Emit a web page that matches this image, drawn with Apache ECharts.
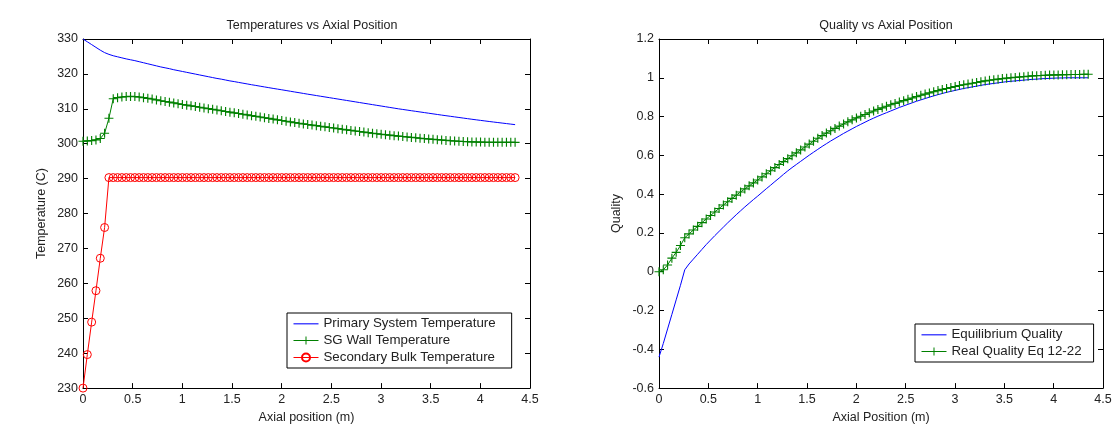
<!DOCTYPE html>
<html><head><meta charset="utf-8">
<script src="https://cdn.jsdelivr.net/npm/echarts@6/dist/echarts.min.js"></script>
<style>html,body{margin:0;padding:0;background:#fff}#c{width:1117px;height:429px}</style>
</head><body><div id="c"></div>
<script>
// Axial positions (m) of the computed nodes
const axialPos = [0, 0.0435, 0.087, 0.1305, 0.174, 0.2175, 0.261, 0.3045, 0.348, 0.3915, 0.435, 0.4785, 0.522, 0.5655, 0.609, 0.6525, 0.696, 0.7395, 0.783, 0.8265, 0.87, 0.9135, 0.957, 1.0005, 1.044, 1.0875, 1.131, 1.1745, 1.218, 1.2615, 1.305, 1.3485, 1.392, 1.4355, 1.479, 1.5225, 1.566, 1.6095, 1.653, 1.6965, 1.74, 1.7835, 1.827, 1.8705, 1.914, 1.9575, 2.001, 2.0445, 2.088, 2.1315, 2.175, 2.2185, 2.262, 2.3055, 2.349, 2.3925, 2.436, 2.4795, 2.523, 2.5665, 2.61, 2.6535, 2.697, 2.7405, 2.784, 2.8275, 2.871, 2.9145, 2.958, 3.0015, 3.045, 3.0885, 3.132, 3.1755, 3.219, 3.2625, 3.306, 3.3495, 3.393, 3.4365, 3.48, 3.5235, 3.567, 3.6105, 3.654, 3.6975, 3.741, 3.7845, 3.828, 3.8715, 3.915, 3.9585, 4.002, 4.0455, 4.089, 4.1325, 4.176, 4.2195, 4.263, 4.3065, 4.35];

const primaryTemp = [330.0, 329.2, 328.4, 327.6, 326.8, 326.1, 325.6, 325.2, 324.9, 324.6, 324.3, 324.05,
  323.8, 323.5, 323.2, 322.9, 322.6, 322.3, 322.0, 321.75, 321.5, 321.2, 320.95, 320.7,
  320.45, 320.2, 319.95, 319.7, 319.45, 319.2, 318.95, 318.7, 318.5, 318.25, 318.0, 317.8,
  317.57, 317.35, 317.13, 316.9, 316.7, 316.48, 316.27, 316.06, 315.85, 315.65, 315.45, 315.24,
  315.03, 314.82, 314.62, 314.41, 314.2, 314.0, 313.8, 313.6, 313.4, 313.2, 313.0, 312.8,
  312.6, 312.4, 312.2, 312.0, 311.8, 311.6, 311.4, 311.2, 311.0, 310.8, 310.6, 310.4,
  310.2, 310.0, 309.82, 309.64, 309.46, 309.28, 309.1, 308.92, 308.74, 308.56, 308.38, 308.2,
  308.03, 307.86, 307.69, 307.52, 307.35, 307.18, 307.01, 306.85, 306.69, 306.53, 306.37, 306.22,
  306.07, 305.92, 305.77, 305.62, 305.47];

const wallTemp = [300.7, 300.8, 300.9, 301.1, 301.5, 303.0, 307.3, 312.9, 313.2, 313.4, 313.5, 313.55,
  313.5, 313.4, 313.2, 313.0, 312.8, 312.55, 312.3, 312.1, 311.9, 311.7, 311.45, 311.25,
  311.05, 310.85, 310.65, 310.45, 310.25, 310.05, 309.85, 309.65, 309.45, 309.25, 309.05, 308.85,
  308.65, 308.45, 308.25, 308.05, 307.85, 307.65, 307.45, 307.25, 307.05, 306.85, 306.65, 306.45,
  306.25, 306.05, 305.85, 305.68, 305.51, 305.34, 305.17, 305.0, 304.83, 304.66, 304.49, 304.32,
  304.15, 303.98, 303.81, 303.65, 303.49, 303.33, 303.17, 303.01, 302.86, 302.71, 302.58, 302.45,
  302.32, 302.19, 302.06, 301.94, 301.82, 301.7, 301.58, 301.47, 301.36, 301.26, 301.16, 301.06,
  300.96, 300.87, 300.79, 300.71, 300.64, 300.58, 300.53, 300.49, 300.46, 300.44, 300.42, 300.41,
  300.4, 300.4, 300.4, 300.4, 300.4];

const bulkTemp = [230.0, 239.6, 248.9, 257.9, 267.2, 276.0,
  290.3, 290.3, 290.3, 290.3, 290.3, 290.3, 290.3, 290.3, 290.3, 290.3,
  290.3, 290.3, 290.3, 290.3, 290.3, 290.3, 290.3, 290.3, 290.3, 290.3,
  290.3, 290.3, 290.3, 290.3, 290.3, 290.3, 290.3, 290.3, 290.3, 290.3,
  290.3, 290.3, 290.3, 290.3, 290.3, 290.3, 290.3, 290.3, 290.3, 290.3,
  290.3, 290.3, 290.3, 290.3, 290.3, 290.3, 290.3, 290.3, 290.3, 290.3,
  290.3, 290.3, 290.3, 290.3, 290.3, 290.3, 290.3, 290.3, 290.3, 290.3,
  290.3, 290.3, 290.3, 290.3, 290.3, 290.3, 290.3, 290.3, 290.3, 290.3,
  290.3, 290.3, 290.3, 290.3, 290.3, 290.3, 290.3, 290.3, 290.3, 290.3,
  290.3, 290.3, 290.3, 290.3, 290.3, 290.3, 290.3, 290.3, 290.3, 290.3,
  290.3, 290.3, 290.3, 290.3, 290.3];

const eqQuality = [-0.44, -0.37, -0.295, -0.22, -0.145, -0.07, 0.01, 0.04, 0.065, 0.09, 0.115, 0.14,
  0.163, 0.186, 0.208, 0.23, 0.252, 0.273, 0.294, 0.314, 0.334, 0.353, 0.372, 0.39,
  0.409, 0.428, 0.446, 0.465, 0.483, 0.502, 0.52, 0.537, 0.553, 0.569, 0.585, 0.601,
  0.616, 0.631, 0.646, 0.66, 0.674, 0.687, 0.7, 0.713, 0.725, 0.737, 0.749, 0.76,
  0.771, 0.782, 0.792, 0.802, 0.811, 0.82, 0.829, 0.838, 0.847, 0.855, 0.863, 0.871,
  0.879, 0.886, 0.893, 0.9, 0.907, 0.913, 0.919, 0.925, 0.93, 0.935, 0.94, 0.945,
  0.949, 0.953, 0.957, 0.961, 0.965, 0.968, 0.971, 0.974, 0.977, 0.98, 0.982, 0.984,
  0.986, 0.988, 0.99, 0.992, 0.993, 0.995, 0.996, 0.997, 0.998, 0.999, 0.999, 1.0,
  1.0, 1.0, 1.0, 1.0, 1.0];

const realQuality = [0.0, 0.01, 0.035, 0.07, 0.1, 0.135, 0.175, 0.195, 0.215, 0.234, 0.253, 0.272,
  0.29, 0.308, 0.326, 0.344, 0.361, 0.378, 0.395, 0.411, 0.427, 0.443, 0.458, 0.473,
  0.489, 0.505, 0.521, 0.537, 0.553, 0.568, 0.583, 0.598, 0.613, 0.628, 0.643, 0.658,
  0.673, 0.688, 0.702, 0.715, 0.727, 0.739, 0.751, 0.762, 0.773, 0.783, 0.793, 0.802,
  0.811, 0.82, 0.829, 0.837, 0.845, 0.853, 0.861, 0.868, 0.875, 0.882, 0.889, 0.896,
  0.903, 0.91, 0.916, 0.922, 0.928, 0.934, 0.94, 0.945, 0.95, 0.955, 0.96, 0.964,
  0.968, 0.972, 0.976, 0.98, 0.984, 0.987, 0.99, 0.993, 0.996, 0.998, 1.0, 1.002,
  1.004, 1.006, 1.008, 1.01, 1.011, 1.012, 1.013, 1.014, 1.015, 1.015, 1.016, 1.016,
  1.017, 1.017, 1.017, 1.018, 1.018];

const FONT = '"Liberation Sans", Arial, Helvetica, sans-serif';
const TXT = '#222';
const BLUE = '#0000ff', GREEN = '#008000', RED = '#ff0000', LEG_BLUE = '#4a4aff';
const plusPath = 'path://M3.5,0H4.5V3.5H8V4.5H4.5V8H3.5V4.5H0V3.5H3.5Z';
const lineIcon = 'path://M0,0L0.01,0Z M0,4.5H25V6H0Z M0,10L0.01,10Z';
function pairs(v){ return axialPos.map((x, i) => [x, v[i]]); }

function xAx(grid, pos, name){
  return {
    gridIndex: grid, type: 'value', position: pos, min: 0, max: 4.5, interval: 0.5,
    name: name || '', nameLocation: 'middle', nameGap: 19,
    nameTextStyle: {fontFamily: FONT, fontSize: 12.5, color: TXT},
    axisLine: {show: true, onZero: false, lineStyle: {color: '#000', width: 1}},
    axisTick: {show: true, inside: true, length: 5, lineStyle: {color: '#000'}},
    axisLabel: {show: pos === 'bottom', fontFamily: FONT, fontSize: 12.5, color: TXT, margin: 5},
    splitLine: {show: false}
  };
}
function yAx(grid, pos, min, max, interval, name, gap){
  return {
    gridIndex: grid, type: 'value', position: pos, min: min, max: max, interval: interval,
    name: name || '', nameLocation: 'middle', nameGap: gap || 30, nameRotate: 90,
    nameTextStyle: {fontFamily: FONT, fontSize: 12.5, color: TXT},
    axisLine: {show: true, onZero: false, lineStyle: {color: '#000', width: 1}},
    axisTick: {show: true, inside: true, length: 5, lineStyle: {color: '#000'}},
    axisLabel: {show: pos === 'left', fontFamily: FONT, fontSize: 12.5, color: TXT, margin: 5},
    splitLine: {show: false}
  };
}

const legendCommon = {
  orient: 'vertical', borderColor: '#000', borderWidth: 1, backgroundColor: '#fff',
  itemWidth: 25, itemHeight: 10, itemGap: 4, itemTextGap: 11,
  textStyle: {fontFamily: FONT, fontSize: 13.3, color: TXT}
};

const chart = echarts.init(document.getElementById('c'), null, {renderer: 'canvas'});
chart.setOption({
  animation: false,
  backgroundColor: '#fff',
  title: [
    {text: 'Temperatures vs Axial Position', left: 307, top: 14, textAlign: 'center',
     textStyle: {fontFamily: FONT, fontSize: 12.5, fontWeight: 'normal', color: TXT}},
    {text: 'Quality vs Axial Position', left: 881, top: 14, textAlign: 'center',
     textStyle: {fontFamily: FONT, fontSize: 12.5, fontWeight: 'normal', color: TXT}}
  ],
  grid: [
    {left: 83, top: 39, width: 447, height: 354},
    {left: 659, top: 39, width: 444, height: 354}
  ],
  xAxis: [
    xAx(0, 'bottom', 'Axial position (m)'), xAx(0, 'top'),
    xAx(1, 'bottom', 'Axial Position (m)'), xAx(1, 'top')
  ],
  yAxis: [
    yAx(0, 'left', 230, 330, 10, 'Temperature (C)', 35), yAx(0, 'right', 230, 330, 10),
    yAx(1, 'left', -0.6, 1.2, 0.2, 'Quality', 36), yAx(1, 'right', -0.6, 1.2, 0.2)
  ],
  legend: [
    Object.assign({}, legendCommon, {left: 287, top: 313, padding: [4, 16, 4, 6],
      data: [
        {name: 'Primary System Temperature', icon: lineIcon, itemStyle: {color: LEG_BLUE}},
        {name: 'SG Wall Temperature', lineStyle: {color: GREEN, width: 1}},
        {name: 'Secondary Bulk Temperature', lineStyle: {color: RED, width: 1}}
      ]}),
    Object.assign({}, legendCommon, {left: 915, top: 324, padding: [4, 12, 4, 6],
      data: [
        {name: 'Equilibrium Quality', icon: lineIcon, itemStyle: {color: LEG_BLUE}},
        {name: 'Real Quality Eq 12-22', lineStyle: {color: GREEN, width: 1}}
      ]})
  ],
  series: [
    {name: 'Primary System Temperature', type: 'line', xAxisIndex: 0, yAxisIndex: 0,
     data: pairs(primaryTemp), symbol: 'none', showSymbol: false,
     lineStyle: {color: BLUE, width: 1}, itemStyle: {color: BLUE}},
    {name: 'SG Wall Temperature', type: 'line', xAxisIndex: 0, yAxisIndex: 0,
     data: pairs(wallTemp), symbol: plusPath, symbolSize: 9, showAllSymbol: true,
     lineStyle: {color: GREEN, width: 1}, itemStyle: {color: GREEN}},
    {name: 'Secondary Bulk Temperature', type: 'line', xAxisIndex: 0, yAxisIndex: 0,
     data: pairs(bulkTemp), symbol: 'circle', symbolSize: 8, showAllSymbol: true,
     lineStyle: {color: RED, width: 1},
     itemStyle: {color: 'rgba(255,255,255,0)', borderColor: RED, borderWidth: 1}},
    {name: 'Equilibrium Quality', type: 'line', xAxisIndex: 2, yAxisIndex: 2,
     data: pairs(eqQuality), symbol: 'none', showSymbol: false,
     lineStyle: {color: BLUE, width: 1}, itemStyle: {color: BLUE}},
    {name: 'Real Quality Eq 12-22', type: 'line', xAxisIndex: 2, yAxisIndex: 2,
     data: pairs(realQuality), symbol: plusPath, symbolSize: 9, showAllSymbol: true,
     lineStyle: {color: GREEN, width: 1}, itemStyle: {color: GREEN}}
  ]
});
</script>
</body></html>
